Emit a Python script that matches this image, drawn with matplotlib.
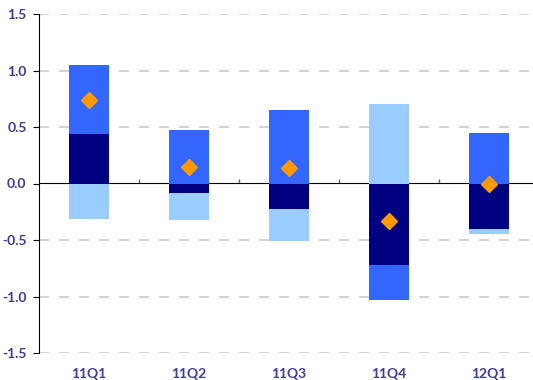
import numpy as np
import matplotlib.pyplot as plt

plt.rcParams['font.family'] = ['Lato', 'DejaVu Sans']

quarters = ["11Q1", "11Q2", "11Q3", "11Q4", "12Q1"]

# three contributions per quarter, stacked above/below zero in this order
navy = [0.44, -0.08, -0.23, -0.72, -0.40]
mid = [0.61, 0.47, 0.65, -0.31, 0.45]
light = [-0.31, -0.24, -0.28, 0.70, -0.05]

yticks = [-1.5, -1.0, -0.5, 0.0, 0.5, 1.0, 1.5]

series = [(navy, "#000080"), (mid, "#3366ff"), (light, "#99ccff")]
total = np.sum([s for s, c in series], axis=0)

fig = plt.figure(figsize=(5.33, 3.8), dpi=100)
ax = fig.add_axes([39 / 533, 27 / 380, 500 / 533, 339 / 380])

x = np.arange(len(quarters))
pos_base = np.zeros(len(x))
neg_base = np.zeros(len(x))
for vals, col in series:
    v = np.array(vals)
    base = np.where(v >= 0, pos_base, neg_base)
    ax.bar(x, v, width=0.4, bottom=base, color=col, zorder=2)
    pos_base += np.where(v >= 0, v, 0)
    neg_base += np.where(v < 0, v, 0)

ax.plot(x, total, linestyle="none", marker="D", markersize=8,
        color="#ff9900", zorder=4)

ax.set_xlim(-0.5, 4.5)
ax.set_ylim(-1.5, 1.5)

# dashed grid, zero line drawn separately
for yv in yticks:
    if yv != 0:
        ax.axhline(yv, color="#cccccc", lw=1.2, dashes=(6, 6), zorder=1)

for s in ["top", "right", "bottom"]:
    ax.spines[s].set_visible(False)
ax.spines["left"].set_color("black")

lab_col = "#3c3c9c"
ax.set_yticks(yticks)
ax.set_yticklabels([f"{v:.1f}" for v in yticks])
ax.tick_params(axis="y", direction="out", length=4, color="black",
               labelcolor=lab_col, labelsize=10, pad=5)
ax.set_xticks(x)
ax.set_xticklabels(quarters)
ax.tick_params(axis="x", length=0, labelcolor=lab_col, labelsize=10, pad=11)
for t in ax.get_xticklabels() + ax.get_yticklabels():
    t.set_fontweight("bold")

# zero axis with category separators
zax = ax.secondary_xaxis(0.5)
zax.spines["bottom"].set_color("black")
zax.spines["bottom"].set_linewidth(1.0)
zax.spines["bottom"].set_zorder(3)
zax.set_xticks(x[:-1] + 0.5)
zax.set_xticklabels([])
zax.tick_params(direction="out", length=3, color="#666666", width=1)

fig.savefig("out.png", dpi=100)
